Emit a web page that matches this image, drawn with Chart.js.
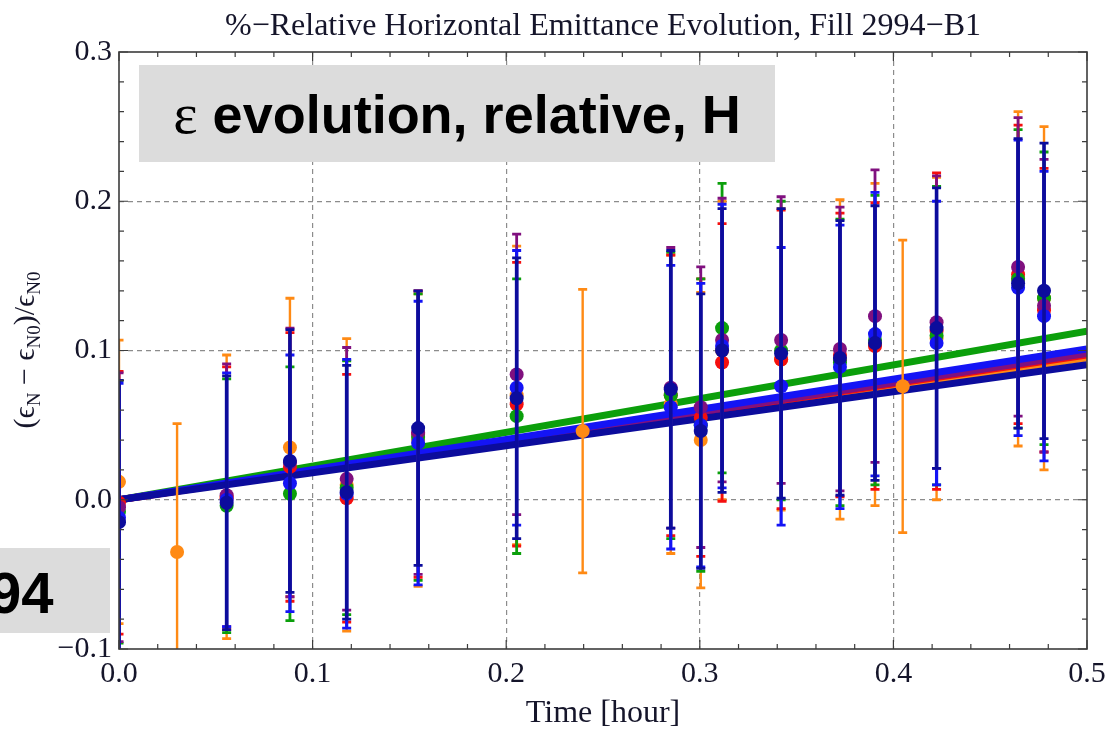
<!DOCTYPE html>
<html>
<head>
<meta charset="utf-8">
<title>Relative Horizontal Emittance Evolution</title>
<script src="https://cdn.jsdelivr.net/npm/chart.js@4.4.1/dist/chart.umd.min.js"></script>
<style>
  html, body { margin: 0; padding: 0; background: #fff; overflow: hidden; }
  #wrap { position: relative; width: 1107px; height: 733px; }
  .note {
    position: absolute;
    background: #dcdcdc;
    color: #000;
    font-family: 'Liberation Sans', Arial, sans-serif;
    font-weight: bold;
    white-space: nowrap;
  }
  .note .eps { font-family: 'Liberation Serif', 'Times New Roman', serif; font-weight: normal; font-size: 58px; }
</style>
</head>
<body>
<div id="wrap">
  <canvas id="chart" class="js-chart" width="1107" height="733"></canvas>
  <div class="note" style="left:139px;top:65px;width:636px;height:97px;font-size:54px;line-height:97px;text-align:center;">
    <span class="eps">ε</span> evolution, relative, H
  </div>
  <div class="note" style="left:0;top:548px;width:110px;height:85px;font-size:58px;line-height:85px;overflow:hidden;">
    <span style="position:absolute;left:-11px;top:2px;">94</span>
  </div>
</div>
<script>
// axis ticks
const xTicks = [0, 0.1, 0.2, 0.3, 0.4, 0.5];
const yTicks = [-0.1, 0, 0.1, 0.2, 0.3];
const MINOR_STEP = 0.02;

// measurement times [hour]
const times = [0, 0.0556, 0.0883, 0.1176, 0.1545, 0.2054, 0.285, 0.3005, 0.3115, 0.342, 0.3724, 0.3905, 0.4223, 0.4644, 0.4778];
const timesOrange = [0, 0.03, 0.0556, 0.0883, 0.1176, 0.1545, 0.2054, 0.2395, 0.285, 0.3005, 0.3115, 0.342, 0.3724, 0.3905, 0.4048, 0.4223, 0.4644, 0.4778];

// relative emittance growth and errors, one pair per bunch
const orangeVals = [0.012, -0.035, 0.002, 0.035, 0.010, 0.040, 0.070, 0.046, 0.064, 0.040, 0.100, 0.094, 0.094, 0.104, 0.076, 0.108, 0.148, 0.135];
const orangeErrs = [0.095, 0.086, 0.095, 0.100, 0.098, 0.098, 0.100, 0.095, 0.100, 0.099, 0.100, 0.101, 0.107, 0.108, 0.098, 0.108, 0.112, 0.115];
const redVals = [-0.002, 0.001, 0.022, 0.001, 0.044, 0.064, 0.070, 0.055, 0.092, 0.094, 0.097, 0.103, 0.113, 0.151, 0.127];
const redErrs = [0.088, 0.088, 0.090, 0.083, 0.096, 0.095, 0.094, 0.093, 0.093, 0.100, 0.095, 0.096, 0.106, 0.100, 0.095];
const greenVals = [-0.008, -0.004, 0.004, 0.008, 0.042, 0.056, 0.070, 0.050, 0.115, 0.100, 0.092, 0.107, 0.110, 0.148, 0.135];
const greenErrs = [0.088, 0.085, 0.085, 0.085, 0.096, 0.092, 0.096, 0.098, 0.097, 0.100, 0.096, 0.097, 0.100, 0.100, 0.098];
const purpleVals = [-0.005, 0.003, 0.025, 0.014, 0.045, 0.084, 0.075, 0.062, 0.107, 0.107, 0.101, 0.123, 0.119, 0.156, 0.130];
const purpleErrs = [0.090, 0.088, 0.090, 0.088, 0.095, 0.094, 0.094, 0.094, 0.095, 0.096, 0.095, 0.098, 0.098, 0.100, 0.098];
const blueVals = [-0.012, 0.000, 0.011, 0.004, 0.038, 0.075, 0.062, 0.050, 0.103, 0.076, 0.089, 0.111, 0.105, 0.142, 0.123];
const blueErrs = [0.090, 0.085, 0.086, 0.090, 0.095, 0.092, 0.095, 0.095, 0.095, 0.093, 0.095, 0.095, 0.095, 0.099, 0.097];
const navyVals = [-0.015, -0.002, 0.026, 0.005, 0.048, 0.068, 0.074, 0.046, 0.100, 0.098, 0.095, 0.105, 0.115, 0.145, 0.140];
const navyErrs = [0.095, 0.085, 0.088, 0.085, 0.092, 0.094, 0.093, 0.092, 0.095, 0.097, 0.092, 0.092, 0.094, 0.097, 0.099];

// linear fits, evaluated at start and end of the window
const fitTimes = [0, 0.5];
const orangeFit = [0, 0.095];
const redFit = [0, 0.097];
const greenFit = [0, 0.113];
const purpleFit = [0, 0.098];
const blueFit = [0, 0.101];
const navyFit = [0, 0.0905];

const SERIES = [
  { color: '#ff8a14', t: timesOrange, vals: orangeVals, errs: orangeErrs, fit: orangeFit, bar: 2.4 },
  { color: '#f50f0f', t: times, vals: redVals, errs: redErrs, fit: redFit, bar: 2.8 },
  { color: '#0b9f0b', t: times, vals: greenVals, errs: greenErrs, fit: greenFit, bar: 2.8 },
  { color: '#80107f', t: times, vals: purpleVals, errs: purpleErrs, fit: purpleFit, bar: 2.8 },
  { color: '#1414f5', t: times, vals: blueVals, errs: blueErrs, fit: blueFit, bar: 3.2 },
  { color: '#0c0c9c', t: times, vals: navyVals, errs: navyErrs, fit: navyFit, bar: 3.6 },
];

const SERIF = "'Liberation Serif', 'Times New Roman', serif";
const TEXT_COLOR = '#15152a';

const fmt = v => (v < -1e-9 ? '\u2212' : '') + Math.abs(v).toFixed(1);

const datasets = [];
SERIES.forEach((s, i) => {
  datasets.push({
    type: 'scatter',
    data: s.fit.map((y, k) => ({ x: fitTimes[k], y })),
    showLine: true,
    borderColor: s.color,
    borderWidth: 7,
    pointRadius: 0,
    order: 30 - i,
  });
  datasets.push({
    type: 'scatter',
    data: s.vals.map((y, k) => ({ x: s.t[k], y })),
    errors: s.errs,
    barWidth: s.bar,
    backgroundColor: s.color,
    borderWidth: 0,
    pointRadius: 7,
    order: 10 - i,
  });
});

// error bars are drawn right before their own points
const errorBarPlugin = {
  id: 'error_bars',
  beforeDatasetDraw: (chart, args) => {
    const ds = chart.data.datasets[args.index];
    if (!ds.errors) return;
    const { ctx, chartArea, scales } = chart;
    ctx.save();
    ctx.beginPath();
    ctx.rect(chartArea.left, chartArea.top, chartArea.right - chartArea.left, chartArea.bottom - chartArea.top);
    ctx.clip();
    ctx.strokeStyle = ds.backgroundColor;
    ds.data.forEach((p, k) => {
      const px = scales.x.getPixelForValue(p.x);
      const top = scales.y.getPixelForValue(p.y + ds.errors[k]);
      const bottom = scales.y.getPixelForValue(p.y - ds.errors[k]);
      ctx.lineWidth = ds.barWidth;
      ctx.beginPath();
      ctx.moveTo(px, top);
      ctx.lineTo(px, bottom);
      ctx.stroke();
      ctx.lineWidth = 2.8;
      ctx.beginPath();
      ctx.moveTo(px - 4.5, top);
      ctx.lineTo(px + 4.5, top);
      ctx.moveTo(px - 4.5, bottom);
      ctx.lineTo(px + 4.5, bottom);
      ctx.stroke();
    });
    ctx.restore();
  },
};

// frame with inward ticks on all four sides, plus title and y label
const framePlugin = {
  id: 'frame_and_labels',
  afterDraw: chart => {
    const { ctx, chartArea: a, scales } = chart;
    ctx.save();
    ctx.strokeStyle = '#3c3c3c';
    ctx.lineWidth = 1.6;
    ctx.strokeRect(a.left, a.top, a.right - a.left, a.bottom - a.top);
    ctx.lineWidth = 1.2;
    ctx.beginPath();
    for (let k = 0; k <= 25; k++) {
      const v = k * MINOR_STEP;
      const len = k % 5 === 0 ? 9 : 5;
      const px = scales.x.getPixelForValue(v);
      ctx.moveTo(px, a.bottom); ctx.lineTo(px, a.bottom - len);
      ctx.moveTo(px, a.top); ctx.lineTo(px, a.top + len);
    }
    for (let k = 0; k <= 20; k++) {
      const v = -0.1 + k * MINOR_STEP;
      const len = k % 5 === 0 ? 9 : 5;
      const py = scales.y.getPixelForValue(v);
      ctx.moveTo(a.left, py); ctx.lineTo(a.left + len, py);
      ctx.moveTo(a.right, py); ctx.lineTo(a.right - len, py);
    }
    ctx.stroke();

    // title
    ctx.fillStyle = TEXT_COLOR;
    ctx.font = `32px ${SERIF}`;
    ctx.textAlign = 'center';
    ctx.textBaseline = 'alphabetic';
    ctx.fillText('%\u2212Relative Horizontal Emittance Evolution, Fill 2994\u2212B1', (a.left + a.right) / 2, 35);

    // y label with subscripts
    const parts = [
      ['(\u03f5', 0], ['N', 1], [' \u2212 \u03f5', 0], ['N0', 1], [')/\u03f5', 0], ['N0', 1],
    ];
    const big = `30px ${SERIF}`;
    const small = `19px ${SERIF}`;
    let total = 0;
    parts.forEach(([txt, sub]) => { ctx.font = sub ? small : big; total += ctx.measureText(txt).width; });
    ctx.translate(34, 350);
    ctx.rotate(-Math.PI / 2);
    ctx.textAlign = 'left';
    let x = -total / 2;
    parts.forEach(([txt, sub]) => {
      ctx.font = sub ? small : big;
      ctx.fillText(txt, x, sub ? 6 : 0);
      x += ctx.measureText(txt).width;
    });
    ctx.restore();
  },
};

const gridColor = edges => c => (edges.includes(Math.round(c.tick.value * 10)) ? 'rgba(0,0,0,0)' : '#8c8c8c');

new Chart(document.getElementById('chart'), {
  type: 'scatter',
  data: { datasets },
  plugins: [errorBarPlugin, framePlugin],
  options: {
    responsive: false,
    animation: false,
    events: [],
    layout: { padding: { top: 52, right: 20, left: 0, bottom: 0 } },
    plugins: { legend: { display: false }, tooltip: { enabled: false } },
    scales: {
      x: {
        type: 'linear',
        min: xTicks[0],
        max: xTicks[xTicks.length - 1],
        afterFit: s => { s.height = 84; s.paddingRight = 0; s.paddingLeft = 0; },
        afterBuildTicks: s => { s.ticks = xTicks.map(value => ({ value })); },
        border: { display: false, dash: [5, 4] },
        grid: { color: gridColor([0, 5]), lineWidth: 1.2, drawTicks: false },
        ticks: { callback: fmt, padding: 7, color: TEXT_COLOR, maxRotation: 0, font: { family: SERIF, size: 30 } },
        title: { display: true, text: 'Time [hour]', color: TEXT_COLOR, padding: { top: 0, bottom: 0 }, font: { family: SERIF, size: 32 } },
      },
      y: {
        type: 'linear',
        min: yTicks[0],
        max: yTicks[yTicks.length - 1],
        afterFit: s => { s.width = 119; s.paddingTop = 0; s.paddingBottom = 0; },
        afterBuildTicks: s => { s.ticks = yTicks.map(value => ({ value })); },
        border: { display: false, dash: [5, 4] },
        grid: { color: gridColor([-1, 3]), lineWidth: 1.2, drawTicks: false },
        ticks: { callback: fmt, padding: 7, color: TEXT_COLOR, font: { family: SERIF, size: 30 } },
      },
    },
  },
});
</script>
</body>
</html>
